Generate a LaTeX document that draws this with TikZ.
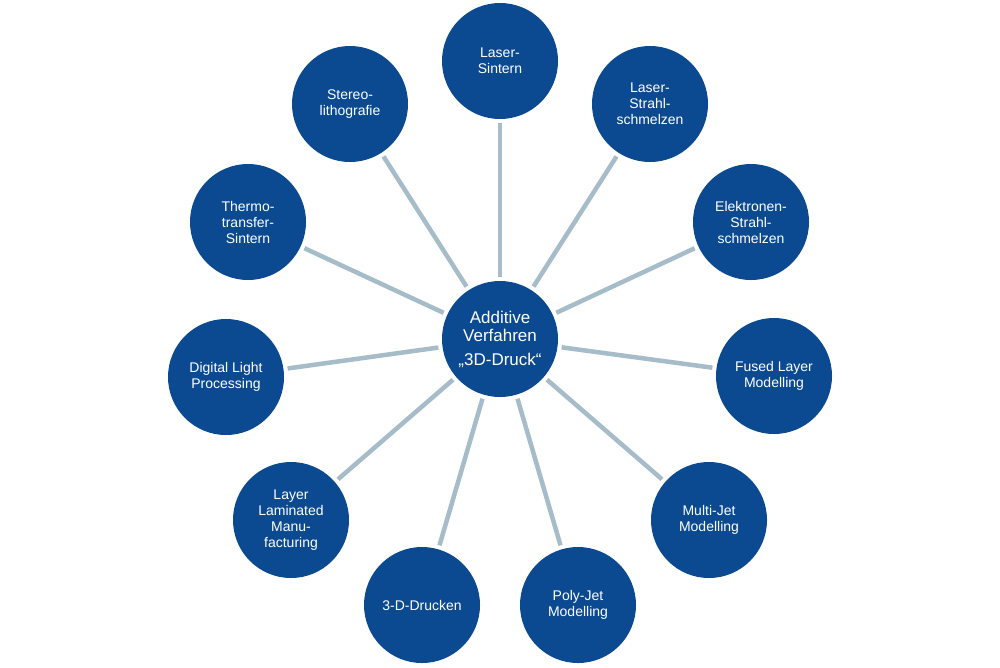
\documentclass[tikz,border=0pt]{standalone}
\usepackage{fontspec}
\setmainfont{Liberation Sans}
\definecolor{nodeblue}{RGB}{11,74,145}
\definecolor{linegray}{RGB}{167,188,201}
\begin{document}
\begin{tikzpicture}[x=1pt,y=-1pt,
  bubble/.style={circle, fill=nodeblue, minimum size=116pt, inner sep=0pt, text=white, align=center, font=\fontsize{14}{16}\selectfont},
  hub/.style={bubble, font=\fontsize{17}{18.5}\selectfont},
  spoke/.style={draw=linegray, line width=4.5pt, shorten <=4pt, shorten >=4pt}]
\useasboundingbox[fill=white] (0,0) rectangle (1000,667);
\node[hub] (c) at (500,339) {Additive\\Verfahren\\[5pt]„3D-Druck“};
\node[bubble] (ls)  at (500,61)  {Laser-\\Sintern};
\node[bubble] (lss) at (650,104) {Laser-\\Strahl-\\schmelzen};
\node[bubble] (ess) at (751,222) {Elektronen-\\Strahl-\\schmelzen};
\node[bubble] (flm) at (774,376) {Fused Layer\\Modelling};
\node[bubble] (mjm) at (709,520) {Multi-Jet\\Modelling};
\node[bubble] (pjm) at (578,605) {Poly-Jet\\Modelling};
\node[bubble] (dd)  at (422,605) {3-D-Drucken};
\node[bubble] (llm) at (291,520) {Layer\\Laminated\\Manu-\\facturing};
\node[bubble] (dlp) at (226,377) {Digital Light\\Processing};
\node[bubble] (tts) at (248,222) {Thermo-\\transfer-\\Sintern};
\node[bubble] (sl)  at (350,104) {Stereo-\\lithografie};
\foreach \n in {ls,lss,ess,flm,mjm,pjm,dd,llm,dlp,tts,sl}
  \draw[spoke] (c) -- (\n);
\end{tikzpicture}
\end{document}
